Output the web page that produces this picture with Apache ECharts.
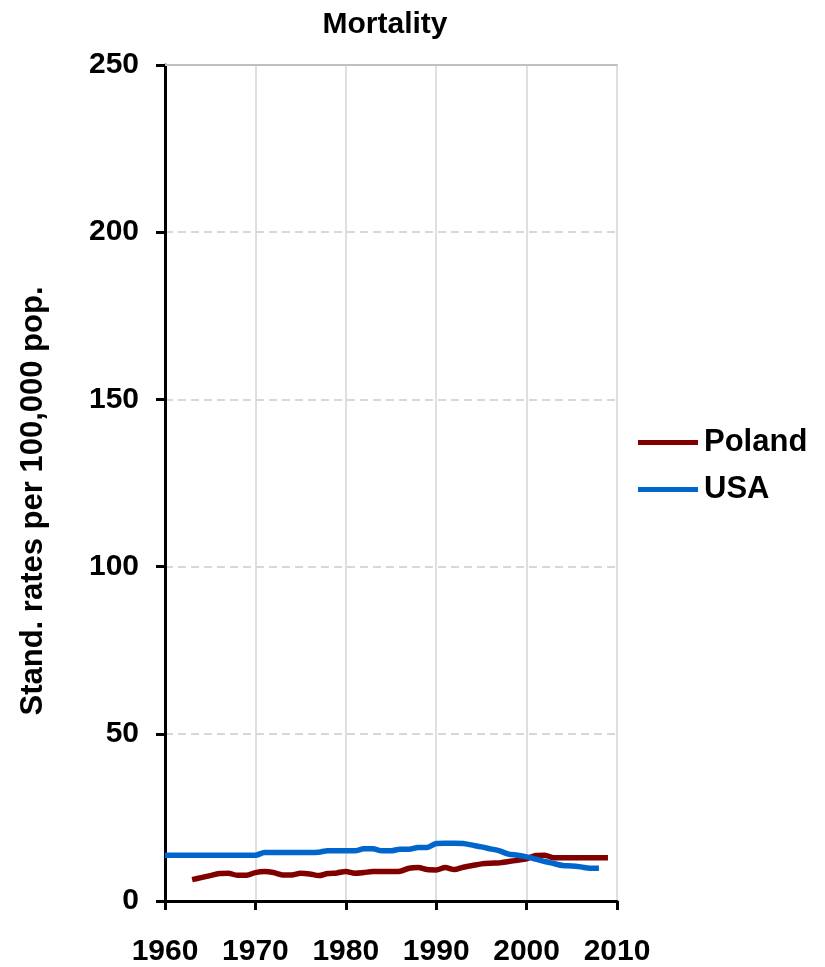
<!DOCTYPE html>
<html>
<head>
<meta charset="utf-8">
<script src="https://cdn.jsdelivr.net/npm/echarts@6/dist/echarts.min.js"></script>
<style>
  html, body { margin: 0; padding: 0; background: #fff; }
  #chart { width: 825px; height: 967px; }
</style>
</head>
<body>
<div id="chart"></div>
<script>
// Standardised mortality rates per 100,000 population
const polandYears = [1963,1964,1965,1966,1967,1968,1969,1970,1971,1972,1973,1974,1975,1976,1977,1978,1979,1980,1981,1982,1983,1984,1985,1986,1987,1988,1989,1990,1991,1992,1993,1994,1995,1996,1997,1998,1999,2000,2001,2002,2003,2004,2005,2006,2007,2008,2009];
const polandRates = [6.4,7.0,7.6,8.2,8.3,7.7,7.7,8.5,8.8,8.5,7.8,7.8,8.3,8.1,7.6,8.2,8.4,8.8,8.3,8.5,8.8,8.8,8.8,8.9,9.8,10.0,9.4,9.3,10.0,9.4,10.1,10.6,11.1,11.3,11.4,11.8,12.2,12.6,13.6,13.7,12.9,12.9,12.9,12.9,12.9,12.9,12.9];

const usaYears = [1960,1961,1962,1963,1964,1965,1966,1967,1968,1969,1970,1971,1972,1973,1974,1975,1976,1977,1978,1979,1980,1981,1982,1983,1984,1985,1986,1987,1988,1989,1990,1991,1992,1993,1994,1995,1996,1997,1998,1999,2000,2001,2002,2003,2004,2005,2006,2007,2008];
const usaRates = [13.7,13.7,13.7,13.7,13.7,13.7,13.7,13.7,13.7,13.7,13.7,14.5,14.5,14.5,14.5,14.5,14.5,14.6,15.0,15.0,15.0,15.0,15.6,15.6,15.0,15.0,15.5,15.5,16.0,16.0,17.2,17.3,17.3,17.2,16.7,16.2,15.6,15.0,14.0,13.7,13.2,12.5,11.8,11.2,10.6,10.5,10.2,9.8,9.8];

const xTicks = [1960, 1970, 1980, 1990, 2000, 2010];
const yTicks = [0, 50, 100, 150, 200, 250];

const font = '"Liberation Sans", Arial, sans-serif';

const pairs = (xs, ys) => xs.map((x, i) => [x, ys[i]]);

const chart = echarts.init(document.getElementById('chart'), null, { renderer: 'canvas' });
chart.setOption({
  animation: false,
  backgroundColor: '#fff',
  title: {
    text: 'Mortality',
    left: 380,
    textAlign: 'center',
    top: 5,
    textStyle: { fontFamily: font, fontWeight: 'bold', fontSize: 30, color: '#000' }
  },
  legend: {
    orient: 'vertical',
    left: 638,
    top: 427,
    padding: 0,
    itemWidth: 60,
    itemHeight: 5,
    itemGap: 16,
    icon: 'rect',
    textStyle: { fontFamily: font, fontWeight: 'bold', fontSize: 31, color: '#000', padding: [0, 0, 0, 1] },
    data: ['Poland', 'USA']
  },
  grid: { left: 165, right: 208, top: 65, bottom: 65, containLabel: false },
  xAxis: [{
    type: 'value',
    min: xTicks[0],
    max: xTicks[xTicks.length - 1],
    interval: 10,
    axisLine: { show: true, onZero: false, lineStyle: { color: '#000', width: 3 } },
    axisTick: { show: true, length: 9, lineStyle: { color: '#000', width: 3 } },
    axisLabel: {
      margin: 36,
      fontFamily: font, fontWeight: 'bold', fontSize: 30, color: '#000',
      formatter: v => String(v)
    },
    splitLine: { show: true, lineStyle: { color: '#d4d4d4', width: 1.5 } }
  }, {
    type: 'value',
    position: 'top',
    min: xTicks[0],
    max: xTicks[xTicks.length - 1],
    interval: 10,
    axisLine: { show: true, onZero: false, lineStyle: { color: '#c0c0c0', width: 2 } },
    axisTick: { show: false },
    axisLabel: { show: false },
    splitLine: { show: false }
  }],
  yAxis: {
    type: 'value',
    min: yTicks[0],
    max: yTicks[yTicks.length - 1],
    interval: 50,
    name: 'Stand. rates per 100,000 pop.',
    nameLocation: 'middle',
    nameGap: 116,
    nameTextStyle: { fontFamily: font, fontWeight: 'bold', fontSize: 31, color: '#000', padding: [0, 36, 0, 0] },
    axisLine: { show: true, lineStyle: { color: '#000', width: 3 } },
    axisTick: { show: true, length: 9, lineStyle: { color: '#000', width: 3 } },
    axisLabel: { margin: 26, fontFamily: font, fontWeight: 'bold', fontSize: 30, color: '#000' },
    splitLine: { show: true, lineStyle: { color: '#cccccc', width: 1.5, type: [8, 5] } }
  },
  series: [{
    name: 'Poland',
    type: 'line',
    data: pairs(polandYears, polandRates),
    showSymbol: false,
    smooth: 0.3,
    color: '#800000',
    lineStyle: { color: '#800000', width: 5.5 }
  }, {
    name: 'USA',
    type: 'line',
    data: pairs(usaYears, usaRates),
    showSymbol: false,
    smooth: 0.3,
    color: '#0066cc',
    lineStyle: { color: '#0066cc', width: 5.5 }
  }]
});
</script>
</body>
</html>
